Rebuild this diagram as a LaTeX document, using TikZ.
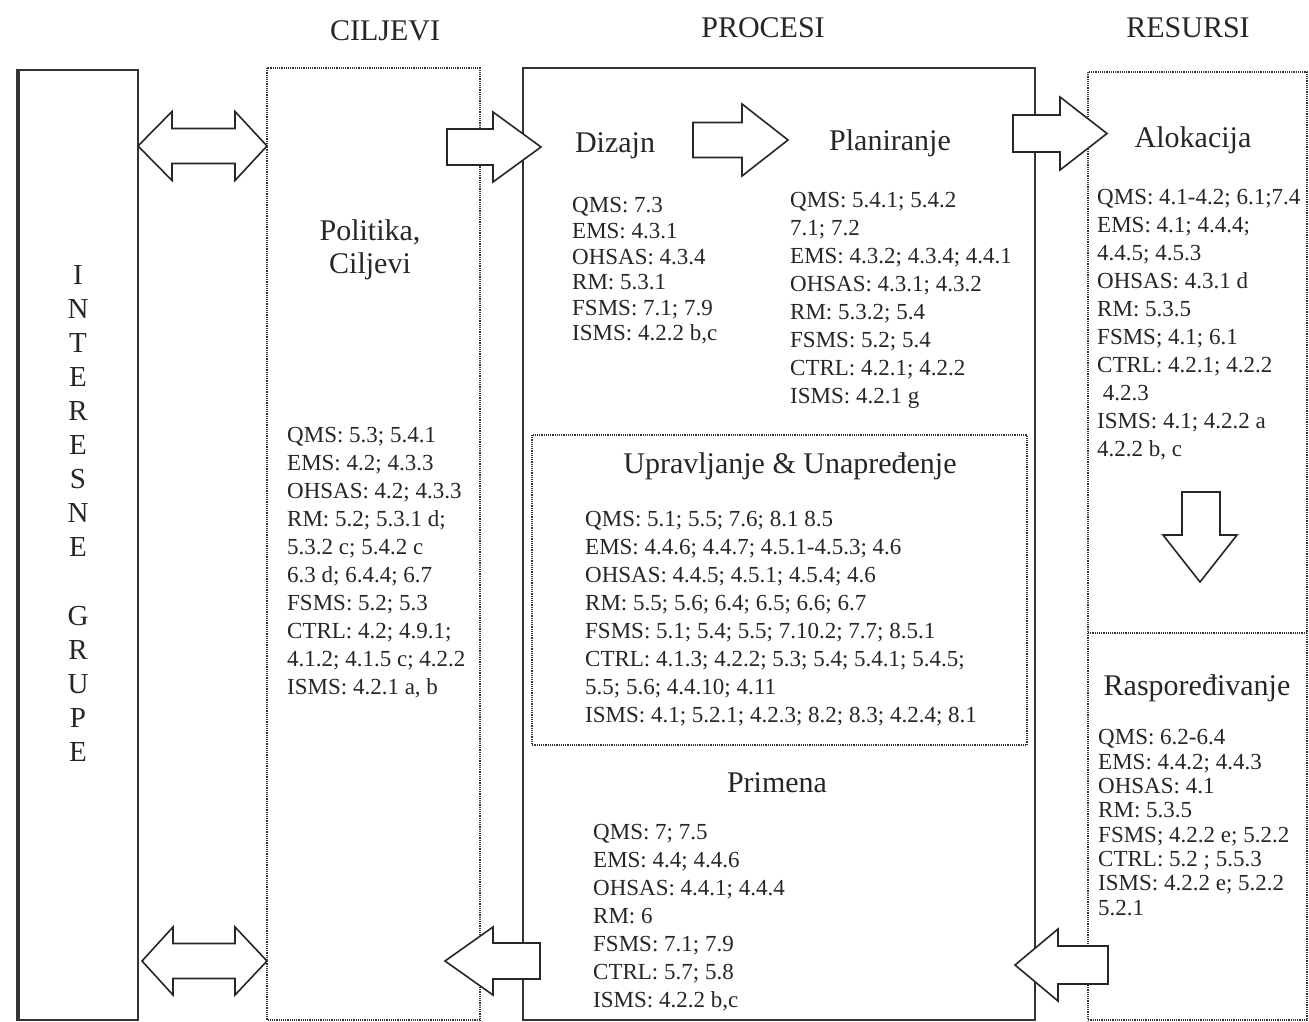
\documentclass[tikz,border=0pt]{standalone}
\usepackage{fontspec}
\setmainfont{Liberation Serif}

\begin{document}
\begin{tikzpicture}[x=1pt,y=-1pt,
  box/.style={draw=black!80,line width=1.6pt},
  dotbox/.style={draw=black!80,line width=1.5pt,dash pattern=on 1.2pt off 1pt},
  blk/.style={draw=black!85,fill=white,line width=1.6pt,line join=miter},
  head/.style={font=\fontsize{30}{33}\selectfont,text=black!85,inner sep=0pt,anchor=base},
  lst/.style={font=\fontsize{23}{28}\selectfont,text=black!85,align=left,anchor=north west,inner sep=0pt}]
\useasboundingbox (0,0) rectangle (1309,1022);
% columns
\draw[box] (17,70) rectangle (138,1020);
\draw[black!80,line width=3pt] (18,70) -- (18,1020);
\draw[dotbox] (267,68) rectangle (480,1020);
\draw[box] (523,68) rectangle (1035,1020);
\draw[dotbox] (532,435) rectangle (1027,745);
\draw[dotbox] (1088,72) rectangle (1307,1020);
\draw[dotbox] (1088,633) -- (1307,633);
% block arrows
\draw[blk] (138,146) -- (172,111.5) -- (172,128.5) -- (235,128.5) -- (235,111.5) -- (267,146)
  -- (235,180.5) -- (235,163.5) -- (172,163.5) -- (172,180.5) -- cycle;
\draw[blk] (142,961) -- (173,927) -- (173,943.5) -- (235,943.5) -- (235,927) -- (267,961)
  -- (235,995) -- (235,978.5) -- (173,978.5) -- (173,995) -- cycle;
\draw[blk] (447,129) -- (493,129) -- (493,112) -- (541,147) -- (493,182) -- (493,165) -- (447,165) -- cycle;
\draw[blk] (693,122.5) -- (742,122.5) -- (742,104) -- (788,140) -- (742,176) -- (742,157.5) -- (693,157.5) -- cycle;
\draw[blk] (1013,115) -- (1060,115) -- (1060,97) -- (1107,133.5) -- (1060,170) -- (1060,152) -- (1013,152) -- cycle;
\draw[blk] (1182,492) -- (1220,492) -- (1220,535) -- (1237,535) -- (1200,582) -- (1163,535) -- (1182,535) -- cycle;
\draw[blk] (1108,946) -- (1058,946) -- (1058,929) -- (1015,965) -- (1058,1001) -- (1058,984) -- (1108,984) -- cycle;
\draw[blk] (540,943) -- (493,943) -- (493,927) -- (445,961) -- (493,995) -- (493,979) -- (540,979) -- cycle;
% titles
\node[head] (ciljevi) at (385,41) {CILJEVI};
\node[head] (procesi) at (763,38) {PROCESI};
\node[head] (resursi) at (1188,38) {RESURSI};
\node[font=\fontsize{29}{34.1}\selectfont,text=black!85,align=center,anchor=north,inner sep=0pt] (grupe) at (78,265)
  {I\\N\\T\\E\\R\\E\\S\\N\\E\\[34.1pt]G\\R\\U\\P\\E};
% ciljevi
\node[head,align=center,anchor=north] (politika) at (370,219.5) {Politika,\\Ciljevi};
\node[lst] (cilj-lst) at (287,427.5) {QMS: 5.3; 5.4.1\\EMS: 4.2; 4.3.3\\OHSAS: 4.2; 4.3.3\\RM: 5.2; 5.3.1 d;\\
  5.3.2 c; 5.4.2 c\\6.3 d; 6.4.4; 6.7\\FSMS: 5.2; 5.3\\CTRL: 4.2; 4.9.1;\\4.1.2; 4.1.5 c; 4.2.2\\ISMS: 4.2.1 a, b};
% procesi
\node[head] (dizajn) at (615,153) {Dizajn};
\node[head] (plan) at (890,150) {Planiranje};
\node[lst,font=\fontsize{23}{25.6}\selectfont] (diz-lst) at (572,197.5) {QMS: 7.3\\EMS: 4.3.1\\OHSAS: 4.3.4\\RM: 5.3.1\\FSMS: 7.1; 7.9\\ISMS: 4.2.2 b,c};
\node[lst] (plan-lst) at (790,192.5) {QMS: 5.4.1; 5.4.2\\7.1; 7.2\\EMS: 4.3.2; 4.3.4; 4.4.1\\OHSAS: 4.3.1; 4.3.2\\
  RM: 5.3.2; 5.4\\FSMS: 5.2; 5.4\\CTRL: 4.2.1; 4.2.2\\ISMS: 4.2.1 g};
\node[head] (uprav) at (790,473) {Upravljanje \& Unapređenje};
\node[lst] (uprav-lst) at (585,510.5) {QMS: 5.1; 5.5; 7.6; 8.1 8.5\\EMS: 4.4.6; 4.4.7; 4.5.1-4.5.3; 4.6\\
  OHSAS: 4.4.5; 4.5.1; 4.5.4; 4.6\\RM: 5.5; 5.6; 6.4; 6.5; 6.6; 6.7\\FSMS: 5.1; 5.4; 5.5; 7.10.2; 7.7; 8.5.1\\
  CTRL: 4.1.3; 4.2.2; 5.3; 5.4; 5.4.1; 5.4.5;\\5.5; 5.6; 4.4.10; 4.11\\ISMS: 4.1; 5.2.1; 4.2.3; 8.2; 8.3; 4.2.4; 8.1};
\node[head] (primena) at (777,792) {Primena};
\node[lst] (prim-lst) at (593,824.5) {QMS: 7; 7.5\\EMS: 4.4; 4.4.6\\OHSAS: 4.4.1; 4.4.4\\RM: 6\\FSMS: 7.1; 7.9\\CTRL: 5.7; 5.8\\ISMS: 4.2.2 b,c};
% resursi
\node[head] (alok) at (1193,147) {Alokacija};
\node[lst] (alok-lst) at (1097,189.5) {QMS: 4.1-4.2; 6.1;7.4\\EMS: 4.1; 4.4.4;\\4.4.5; 4.5.3\\OHSAS: 4.3.1 d\\RM: 5.3.5\\
  FSMS; 4.1; 6.1\\CTRL: 4.2.1; 4.2.2\\\ 4.2.3\\ISMS: 4.1; 4.2.2 a\\4.2.2 b, c};
\node[head] (raspo) at (1197,695) {Raspoređivanje};
\node[lst,font=\fontsize{23}{24.3}\selectfont] (raspo-lst) at (1098,729.5) {QMS: 6.2-6.4\\EMS: 4.4.2; 4.4.3\\OHSAS: 4.1\\RM: 5.3.5\\
  FSMS; 4.2.2 e; 5.2.2\\CTRL: 5.2 ; 5.5.3\\ISMS: 4.2.2 e; 5.2.2\\5.2.1};
\end{tikzpicture}
\end{document}
